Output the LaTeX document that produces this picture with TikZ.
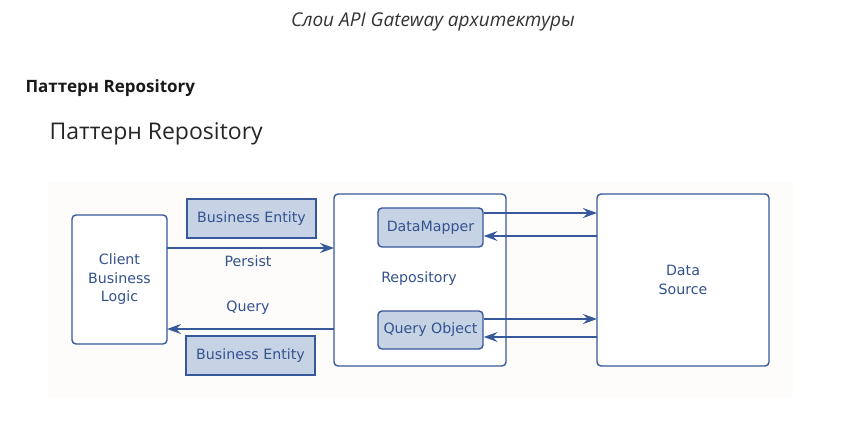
\documentclass[tikz,border=0pt]{standalone}
\usepackage{fontspec}
\setmainfont{DejaVu Sans}
\newfontfamily\titlefont{Open Sans}
\usetikzlibrary{arrows.meta}
\definecolor{lineblue}{HTML}{37589A}
\definecolor{textblue}{HTML}{34528E}
\definecolor{entfill}{HTML}{C6D3E5}
\definecolor{bgpanel}{HTML}{FDFCFB}
\definecolor{titlegray}{HTML}{333333}
\tikzset{
  px/.style={x=1pt,y=-1pt},
  bigbox/.style={draw=lineblue, line width=1.4pt, rounded corners=4pt, fill=white},
  entbox/.style={draw=lineblue, line width=1.4pt, fill=entfill},
  innerbox/.style={draw=lineblue, line width=1.4pt, fill=entfill, rounded corners=4pt},
  lbl/.style={text=textblue, font=\fontsize{14.2}{18.5}\selectfont, align=center},
  conn/.style={draw=lineblue, line width=1.4pt, -{Stealth[length=14pt,width=10pt,inset=5pt]}},
}
\begin{document}
\begin{tikzpicture}[px]
\useasboundingbox (0,0) rectangle (862,428);
% titles
\node[font=\titlefont\itshape\fontsize{19}{22}\selectfont, text=titlegray] (title) at (433,22) {Слои API Gateway архитектуры};
\node[anchor=west, font=\titlefont\bfseries\fontsize{17}{20}\selectfont, text=black!90] (h1) at (22,88) {Паттерн Repository};
\node[anchor=west, font=\titlefont\fontsize{23}{27}\selectfont, text=black!85] (h2) at (46,134) {Паттерн Repository};
% panel
\fill[bgpanel] (48,182) rectangle (793,397);
% boxes
\draw[bigbox] (72,215) rectangle (167,344);
\node[lbl] (client) at (119.5,279.5) {Client\\Business\\Logic};
\draw[bigbox] (334,194) rectangle (506,366);
\node[lbl] (repo) at (419,279) {Repository};
\draw[bigbox] (597,194) rectangle (769,366);
\node[lbl] (ds) at (683,280) {Data\\Source};
% coordinates of box edges
\coordinate (clR) at (167,0);
\coordinate (repL) at (334,0);
\coordinate (dsL) at (597,0);
% entities
\node[entbox, lbl, minimum width=129pt, minimum height=39pt, inner sep=0pt] (be1) at (251.5,218.5) {Business Entity};
\node[entbox, lbl, minimum width=129pt, minimum height=39pt, inner sep=0pt] (be2) at (250.5,355.5) {Business Entity};
\node[innerbox, lbl, minimum width=105pt, minimum height=39pt, inner sep=0pt] (dm) at (430.5,227.5) {DataMapper};
\node[innerbox, lbl, minimum width=105pt, minimum height=38pt, inner sep=0pt] (qo) at (430.5,330) {Query Object};
% labels
\node[lbl] (persist) at (248,261) {Persist};
\node[lbl] (query) at (248,308) {Query};
% connectors
\draw[conn] (167,248) -- (repL |- 0,248);
\draw[conn] (repL |- 0,329) -- (167,329);
\draw[conn] (dm.east |- 0,213) -- (dsL |- 0,213);
\draw[conn] (dsL |- 0,236) -- (dm.east |- 0,236);
\draw[conn] (qo.east |- 0,319) -- (dsL |- 0,319);
\draw[conn] (dsL |- 0,337) -- (qo.east |- 0,337);
\end{tikzpicture}
\end{document}
